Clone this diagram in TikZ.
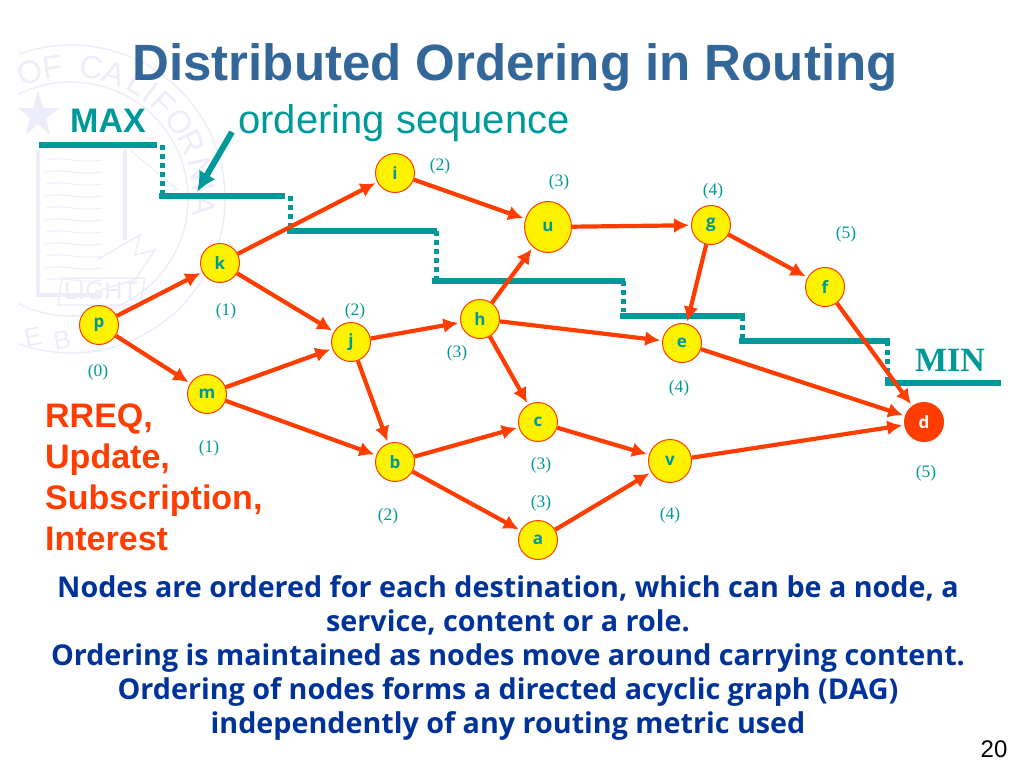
\documentclass[tikz,border=0pt]{standalone}
\usepackage{fontspec}
\setmainfont{Liberation Sans}
\newfontfamily\serifface{Liberation Serif}
\newfontfamily\bodyface{Open Sans}
\usetikzlibrary{arrows.meta, shapes.geometric}
\definecolor{slideteal}{RGB}{0,153,153}
\definecolor{slidered}{RGB}{255,61,0}
\definecolor{titleblue}{RGB}{51,102,153}
\definecolor{bodyblue}{RGB}{0,51,153}
\definecolor{sealtint}{RGB}{236,236,250}
\begin{document}
\begin{tikzpicture}[x=1pt, y=-1pt,
      router/.style={ellipse, draw=slidered, line width=1pt, fill=yellow, inner sep=0pt,
        minimum width=39pt, minimum height=39pt, text=slideteal,
        font=\bodyface\bfseries\fontsize{17}{17}\selectfont},
      sink/.style={router, fill=slidered, text=white},
      hop/.style={text=slideteal, inner sep=0pt, yshift=-2pt, font=\serifface\fontsize{17.5}{17.5}\selectfont},
      link/.style={draw=slidered, line width=4.2pt, -{Latex[length=15pt,width=15pt]}, shorten >=2pt},
      level/.style={draw=slideteal, line width=6pt},
      drop/.style={draw=slideteal, line width=5pt, dash pattern=on 5pt off 4pt},
      sealtext/.style={text=sealtint, inner sep=0pt, font=\fontsize{32}{32}\selectfont}
    ]
    \useasboundingbox (0,0) rectangle (1024,768);

    % Faint seal behind the graph
    \begin{scope}
      \clip (18,30) rectangle (240,360);
      \draw[sealtint, line width=1.5pt] (71,199) circle (154);
      \draw[sealtint, line width=1.5pt] (71,199) circle (117);
      \foreach \letter/\ang in {O/-18,F/-8,C/9,A/19,L/30,I/37,F/44,O/55,R/65,N/77,I/85,A/93}
        \node[sealtext, rotate=-\ang] at ({71+133*sin(\ang)},{199-133*cos(\ang)}) {\letter};
      \node[sealtext, rotate=12, font=\fontsize{26}{26}\selectfont] at (33,337) {E};
      \node[sealtext, rotate=10, font=\fontsize{26}{26}\selectfont] at (62,340) {B};
      \draw[sealtint, line width=4pt] (38,150) -- (38,295) -- (100,295);
      \draw[sealtint, line width=4pt] (125,150) -- (125,240);
      \foreach \yy in {160,172,...,280}
        \draw[sealtint, line width=1pt] (46,\yy) .. controls (65,\yy-4) and (80,\yy+4) .. (102,\yy);
      \draw[sealtint, line width=1pt] (130,150) -- (178,190);
      \draw[sealtint, line width=1.5pt] (97,260) -- (140,235) -- (135,255) -- (155,250) -- (135,280) -- (100,290);
      \draw[sealtint, line width=1.5pt] (62,278) -- (145,278) -- (140,305) -- (58,305) -- cycle;
      \node[sealtext, font=\fontsize{25}{25}\selectfont] at (101,291) {LIGHT};
      \fill[sealtint] (38,90) -- (43,108) -- (60,108) -- (46,118) -- (50,135) -- (38,124)
        -- (26,135) -- (30,118) -- (18,108) -- (33,108) -- cycle;
    \end{scope}

    % Title and captions
    \node[text=titleblue, inner sep=0pt, font=\bfseries\fontsize{51}{51}\selectfont] (title) at (515,67) {Distributed Ordering in Routing};
    \node[text=slideteal, inner sep=0pt, font=\bfseries\fontsize{34}{34}\selectfont] (maxlabel) at (108,121) {MAX};
    \node[text=slideteal, inner sep=0pt, font=\fontsize{40}{40}\selectfont] (seqlabel) at (404,123) {ordering sequence};
    \node[text=slideteal, inner sep=0pt, font=\serifface\bfseries\fontsize{34}{34}\selectfont] (minlabel) at (950,360) {MIN};

    % Staircase of levels
    \foreach \i/\xa/\xb/\yy in {1/39/157/145, 2/159/285/196, 3/287/437/231, 4/432/625/281, 5/620/745/316, 6/739/890/341, 7/885/1001/383}{
      \coordinate (l\i a) at (\xa,\yy);
      \coordinate (l\i b) at (\xb,\yy);
      \draw[level] (l\i a) -- (l\i b);
    }
    \foreach \i/\xx/\ya/\yb in {1/162/145/193, 2/290/196/228, 3/436/231/278, 4/623/281/312, 5/742/316/338, 6/887/341/380}{
      \coordinate (d\i a) at (\xx,\ya);
      \coordinate (d\i b) at (\xx,\yb);
      \draw[drop] (d\i a) -- (d\i b);
    }
    \coordinate (seqstart) at (232,132);
    \coordinate (seqend) at (197,192);
    \draw[draw=slideteal, line width=6pt, -{Latex[length=20pt,width=19pt]}] (seqstart) -- (seqend);

    % Routers
    \node[router] (p) at (99,325) {p};
    \node[router] (k) at (220,263) {k};
    \node[router] (i) at (395,173) {i};
    \node[router, minimum width=47pt, minimum height=51pt] (u) at (548,227) {u};
    \node[router] (g) at (711,225) {g};
    \node[router] (f) at (825,287) {f};
    \node[router] (e) at (682,343) {e};
    \node[router] (h) at (480,319) {h};
    \node[router] (j) at (351,342) {j};
    \node[router] (m) at (207,394) {m};
    \node[router] (b) at (395,462) {b};
    \node[router] (c) at (538,422) {c};
    \node[router, minimum width=43pt, minimum height=43pt] (v) at (670,461) {v};
    \node[router] (a) at (538,540) {a};
    \node[sink] (d) at (924,422) {d};

    % Directed links
    \foreach \from/\to in {p/k, p/m, k/i, k/j, i/u, m/j, m/b, j/h, j/b, h/u, h/e, h/c,
        u/g, g/f, g/e, f/d, e/d, c/v, b/c, b/a, a/v, v/d}
      \draw[link] (\from) -- (\to);

    % Hop counts
    \node[hop] (hi) at (440,164) {(2)};
    \node[hop] (hu) at (559,180) {(3)};
    \node[hop] (hg) at (713,189) {(4)};
    \node[hop] (hf) at (846,232) {(5)};
    \node[hop] (hk) at (226,309) {(1)};
    \node[hop] (hj) at (355,309) {(2)};
    \node[hop] (hh) at (457,351) {(3)};
    \node[hop] (hp) at (98,370) {(0)};
    \node[hop] (hm) at (209,446) {(1)};
    \node[hop] (he) at (679,386) {(4)};
    \node[hop] (hc) at (541,463) {(3)};
    \node[hop] (ha) at (541,501) {(3)};
    \node[hop] (hb) at (388,514) {(2)};
    \node[hop] (hv) at (670,513) {(4)};
    \node[hop] (hd) at (926,471) {(5)};

    % Text blocks
    \node[anchor=north west, inner sep=0pt, align=left, text=slidered,
      font=\bfseries\fontsize{34}{41}\selectfont] (packets) at (45,404)
      {RREQ,\\Update,\\Subscription,\\Interest};
    \node[anchor=north, inner sep=0pt, align=center, text=bodyblue,
      font=\bodyface\bfseries\fontsize{28.7}{34}\selectfont] (notes) at (508,575)
      {Nodes are ordered for each destination, which can be a node, a\\
       service, content or a role.\\
       Ordering is maintained as nodes move around carrying content.\\
       Ordering of nodes forms a directed acyclic graph (DAG)\\
       independently of any routing metric used};
    \node[inner sep=0pt, font=\fontsize{24}{24}\selectfont] (pagenum) at (994,749) {20};
\end{tikzpicture}
\end{document}
